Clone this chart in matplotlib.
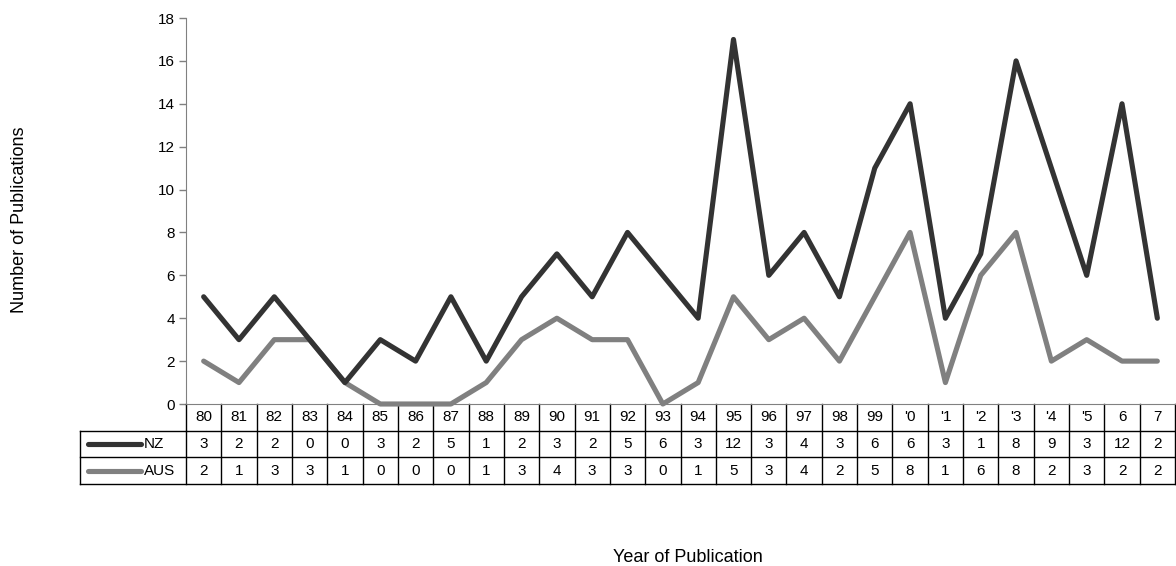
import numpy as np
import matplotlib
matplotlib.use("Agg")
import matplotlib.pyplot as plt
from matplotlib.transforms import blended_transform_factory

years = ["80", "81", "82", "83", "84", "85", "86", "87", "88", "89", "90", "91", "92", "93",
         "94", "95", "96", "97", "98", "99", "'0", "'1", "'2", "'3", "'4", "'5", "6", "7"]
nz = [3, 2, 2, 0, 0, 3, 2, 5, 1, 2, 3, 2, 5, 6, 3, 12, 3, 4, 3, 6, 6, 3, 1, 8, 9, 3, 12, 2]
aus = [2, 1, 3, 3, 1, 0, 0, 0, 1, 3, 4, 3, 3, 0, 1, 5, 3, 4, 2, 5, 8, 1, 6, 8, 2, 3, 2, 2]
series_names = ["NZ", "AUS"]
yticks = [0, 2, 4, 6, 8, 10, 12, 14, 16, 18]

plt.rcParams['font.family'] = ['Liberation Sans', 'DejaVu Sans']

W, H = 1176, 566
fig = plt.figure(figsize=(W / 100, H / 100), dpi=100)
left_px, right_px, top_px, bottom_px = 186, 1175, 18, 404
ax = fig.add_axes([left_px / W, 1 - bottom_px / H, (right_px - left_px) / W, (bottom_px - top_px) / H])

x = np.arange(len(years))
stack_top = np.array(nz) + np.array(aus)
dark = '#333333'
gray = '#808080'

ax.plot(x, aus, color=gray, lw=3.7, solid_joinstyle='round', solid_capstyle='round', zorder=3, clip_on=False)
ax.plot(x, stack_top, color=dark, lw=3.7, solid_joinstyle='round', solid_capstyle='round', zorder=4, clip_on=False)

ax.set_xlim(-0.5, len(years) - 0.5)
ax.set_ylim(0, 18)
ax.set_yticks(yticks)
ax.set_xticks([])
ax.tick_params(axis='y', direction='out', length=5, width=1, color='#808080', labelsize=11, pad=3)
for s in ['top', 'right']:
    ax.spines[s].set_visible(False)
ax.spines['left'].set_color('#808080')
ax.spines['bottom'].set_color('#808080')

# Table
row_h = 26.7 / (bottom_px - top_px)  # in axes fraction
trans = blended_transform_factory(ax.transData, ax.transAxes)
lc = 'black'
n = len(years)
tbl_left_ax = (80 - left_px) / (right_px - left_px)
fs = 11

# horizontal lines
ax.plot([0, 1], [-row_h, -row_h], transform=ax.transAxes, color=lc, lw=1, clip_on=False)
ax.plot([tbl_left_ax, 0], [-row_h, -row_h], transform=ax.transAxes, color=lc, lw=1, clip_on=False)
for k in (2, 3):
    yy = -k * row_h
    ax.plot([tbl_left_ax, 1], [yy, yy], transform=ax.transAxes, color=lc, lw=1, clip_on=False)
# vertical lines: data columns
for i in range(n + 1):
    xx = i - 0.5
    ax.plot([xx, xx], [0, -3 * row_h], transform=trans, color=lc, lw=1, clip_on=False)
ax.plot([tbl_left_ax, tbl_left_ax], [-row_h, -3 * row_h], transform=ax.transAxes, color=lc, lw=1, clip_on=False)

# header text
for i, yl in enumerate(years):
    ax.text(i, -0.5 * row_h, yl, transform=trans, ha='center', va='center', fontsize=fs, clip_on=False)
for r, vals in enumerate([nz, aus]):
    yc = -(r + 1.5) * row_h
    for i, v in enumerate(vals):
        ax.text(i, yc, str(v), transform=trans, ha='center', va='center', fontsize=fs, clip_on=False)

# legend keys in row labels
colors = [dark, gray]
for r, name in enumerate(series_names):
    yc = -(r + 1.5) * row_h
    x0 = (88 - left_px) / (right_px - left_px)
    x1 = (141 - left_px) / (right_px - left_px)
    xt = (144 - left_px) / (right_px - left_px)
    ax.plot([x0, x1], [yc, yc], transform=ax.transAxes, color=colors[r], lw=3.7,
            solid_capstyle='round', clip_on=False)
    ax.text(xt, yc, name, transform=ax.transAxes, ha='left', va='center', fontsize=fs, clip_on=False)

fig.text(20 / W, 1 - 220 / H, "Number of Publications", rotation=90, ha='center', va='center', fontsize=13)
fig.text(688 / W, 1 - 557 / H, "Year of Publication", ha='center', va='center', fontsize=13)

fig.savefig("out.png", dpi=100)
